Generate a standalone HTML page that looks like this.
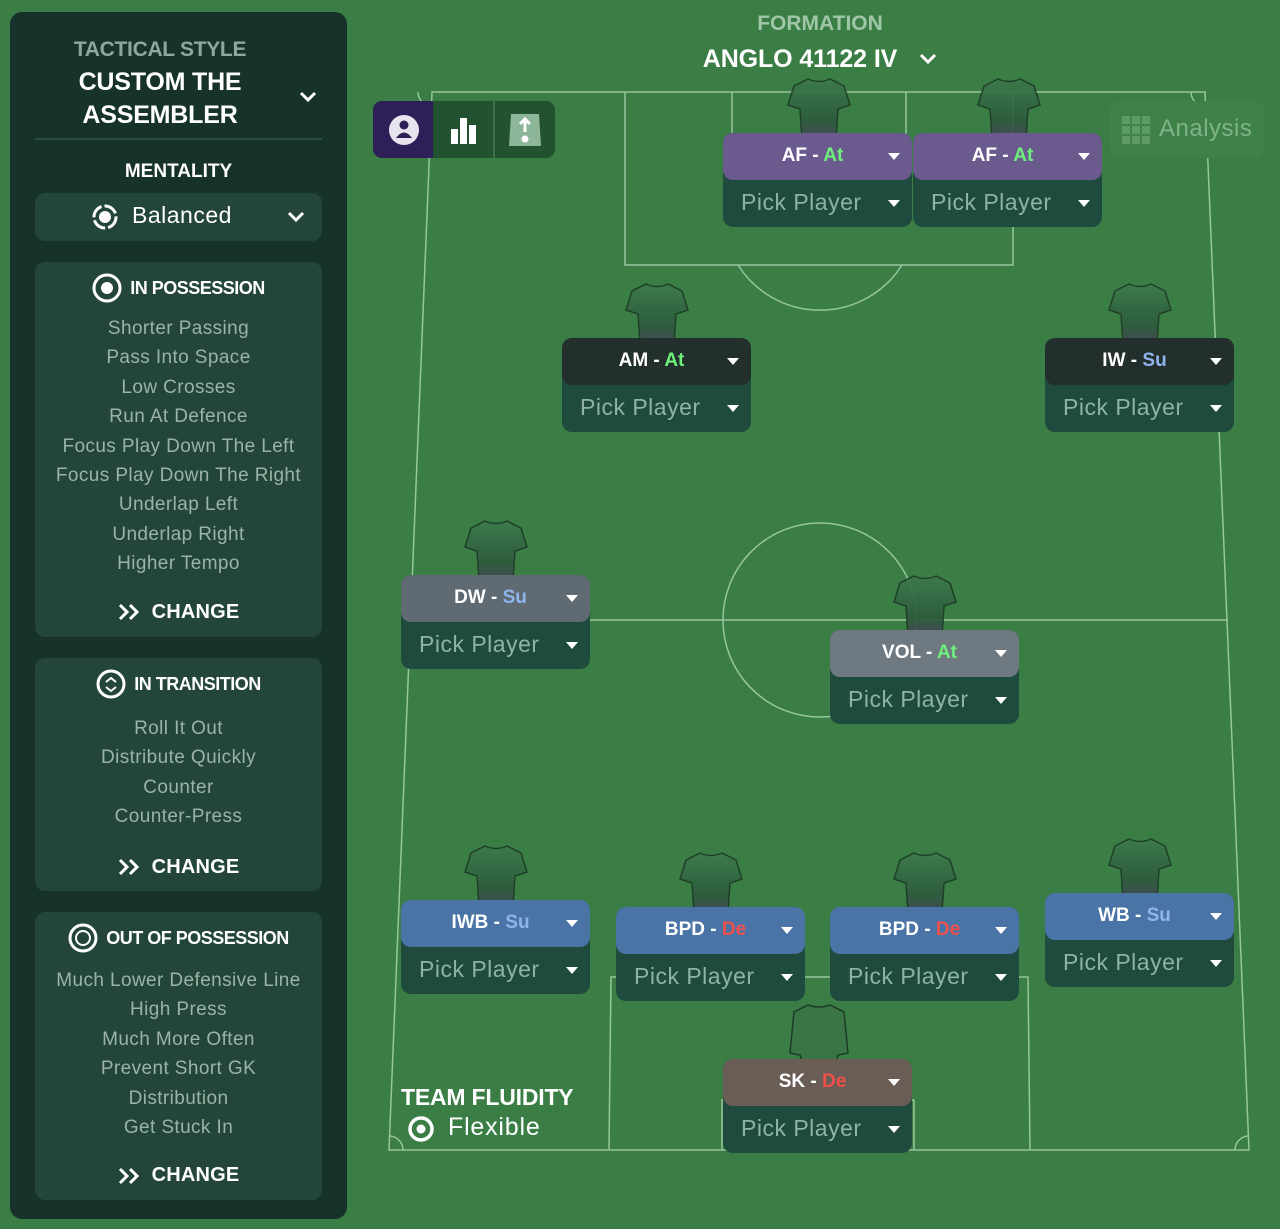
<!DOCTYPE html>
<html><head><meta charset="utf-8"><style>
*{margin:0;padding:0;box-sizing:border-box}
body{width:1280px;height:1229px;background:#3a7e45;position:relative;overflow:hidden;font-family:"Liberation Sans",sans-serif}
.abs{position:absolute}
.side{left:10px;top:12px;width:337px;height:1207px;background:#16322a;border-radius:12px}
.sec{position:absolute;left:35px;width:287px;background:#234639;border-radius:10px}
.c{text-align:center;color:#fff}
.item{color:#9bb3a8;font-size:19px;line-height:29.4px;text-align:center;letter-spacing:.4px}
.h{font-weight:bold;font-size:18px;color:#fff;letter-spacing:-.5px;display:flex;align-items:center;justify-content:center;gap:8px}
.chg{font-weight:bold;font-size:20px;color:#fff;letter-spacing:.2px;display:flex;align-items:center;justify-content:center;gap:12px}
.card{position:absolute;width:189px;height:94px;border-radius:10px;background:#1e4b3d}
.hd{position:absolute;left:0;top:0;width:189px;height:47px;border-radius:10px;font-weight:bold;font-size:19px;color:#fff;text-align:center;line-height:45px;padding-right:10px}
.pp{position:absolute;left:0;top:47px;width:189px;height:47px;color:#8fb3a3;font-size:23px;line-height:45px;padding-left:18px;letter-spacing:.5px}
.tri{position:absolute;right:12px;width:0;height:0;border-left:6px solid transparent;border-right:6px solid transparent;border-top:7px solid #fff}
.shirt{position:absolute;width:66px;height:62px}
</style></head><body>
<svg class="abs" style="left:0;top:0" width="1280" height="1229">
<g fill="none" stroke="#a8d2ad" stroke-width="1.5" opacity=".85">
<polygon points="432,92 1205,92 1249,1150 389,1150"/>
<line x1="408" y1="620" x2="1228" y2="620"/>
<circle cx="820" cy="620" r="97"/>
<polyline points="625,92 625,265 1013,265 1013,92"/>
<polyline points="732,92 732,135 906,135 906,92"/>
<path d="M738,265 A97,97 0 0 0 902,265"/>
<polyline points="609,1150 611,977 1028,977 1030,1150"/>
<polyline points="722,1150 722,1100 914,1100 914,1150"/>
<path d="M418,92 A14,14 0 0 0 432,106"/><path d="M1191,92 A14,14 0 0 0 1205,106"/>
<path d="M389,1136 A14,14 0 0 1 403,1150"/><path d="M1249,1136 A14,14 0 0 0 1235,1150"/>
</g></svg>

<div class="abs side"></div>
<div class="abs c" style="left:10px;width:337px;top:38px;font-weight:bold;font-size:21px;color:#8da79b">
<div style="width:300px;text-align:center;letter-spacing:-.3px">TACTICAL STYLE</div></div>
<div class="abs" style="left:38px;width:244px;top:66px;font-weight:bold;font-size:25px;color:#fff;text-align:center;line-height:33px;letter-spacing:-.2px">CUSTOM THE<br>ASSEMBLER</div>
<svg class="abs" style="left:298px;top:90px" width="20" height="14"><polyline points="3,3 10,10 17,3" fill="none" stroke="#fff" stroke-width="3"/></svg>
<div class="abs" style="left:35px;top:138px;width:287px;height:2px;background:#2d4d42"></div>
<div class="abs c" style="left:35px;width:287px;top:161px;font-weight:bold;font-size:19px">MENTALITY</div>
<div class="sec" style="top:193px;height:48px"></div>
<svg class="abs" style="left:91px;top:203px" width="28" height="28"><circle cx="14" cy="14" r="11" fill="none" stroke="#fff" stroke-width="3" stroke-dasharray="14 3"/><circle cx="14" cy="14" r="6" fill="#fff"/></svg>
<div class="abs" style="left:132px;top:202px;color:#fff;font-size:23px;letter-spacing:.5px">Balanced</div>
<svg class="abs" style="left:286px;top:210px" width="20" height="14"><polyline points="3,3 10,10 17,3" fill="none" stroke="#fff" stroke-width="3"/></svg>

<div class="sec" style="top:262px;height:375px">
<div class="h" style="margin-top:11px"><svg width="30" height="30"><circle cx="15" cy="15" r="13" fill="none" stroke="#fff" stroke-width="3"/><circle cx="15" cy="15" r="6" fill="#fff"/></svg>IN POSSESSION</div>
<div class="item" style="margin-top:11px">Shorter Passing<br>Pass Into Space<br>Low Crosses<br>Run At Defence<br>Focus Play Down The Left<br>Focus Play Down The Right<br>Underlap Left<br>Underlap Right<br>Higher Tempo</div>
<div class="chg" style="margin-top:22px"><svg width="22" height="18"><polyline points="2,2 9,9 2,16" fill="none" stroke="#fff" stroke-width="3"/><polyline points="12,2 19,9 12,16" fill="none" stroke="#fff" stroke-width="3"/></svg>CHANGE</div>
</div>
<div class="sec" style="top:658px;height:233px">
<div class="h" style="margin-top:11px"><svg width="30" height="30"><circle cx="15" cy="15" r="13" fill="none" stroke="#fff" stroke-width="3"/><polyline points="10,13 15,9 20,13" fill="none" stroke="#fff" stroke-width="2"/><polyline points="10,18 15,22 20,18" fill="none" stroke="#fff" stroke-width="2"/></svg>IN TRANSITION</div>
<div class="item" style="margin-top:15px">Roll It Out<br>Distribute Quickly<br>Counter<br>Counter-Press</div>
<div class="chg" style="margin-top:24px"><svg width="22" height="18"><polyline points="2,2 9,9 2,16" fill="none" stroke="#fff" stroke-width="3"/><polyline points="12,2 19,9 12,16" fill="none" stroke="#fff" stroke-width="3"/></svg>CHANGE</div>
</div>
<div class="sec" style="top:912px;height:288px">
<div class="h" style="margin-top:11px"><svg width="30" height="30"><circle cx="15" cy="15" r="13" fill="none" stroke="#fff" stroke-width="3"/><circle cx="15" cy="15" r="7" fill="none" stroke="#fff" stroke-width="2"/></svg>OUT OF POSSESSION</div>
<div class="item" style="margin-top:13px">Much Lower Defensive Line<br>High Press<br>Much More Often<br>Prevent Short GK<br>Distribution<br>Get Stuck In</div>
<div class="chg" style="margin-top:22px"><svg width="22" height="18"><polyline points="2,2 9,9 2,16" fill="none" stroke="#fff" stroke-width="3"/><polyline points="12,2 19,9 12,16" fill="none" stroke="#fff" stroke-width="3"/></svg>CHANGE</div>
</div>

<div class="abs c" style="left:620px;width:400px;top:12px;font-weight:bold;font-size:21px;color:#9fc6a6">FORMATION</div>
<div class="abs c" style="left:600px;width:400px;top:45px;font-weight:bold;font-size:25px;letter-spacing:-.1px">ANGLO 41122 IV</div>
<svg class="abs" style="left:918px;top:52px" width="20" height="14"><polyline points="3,3 10,10 17,3" fill="none" stroke="#fff" stroke-width="3"/></svg>

<div class="abs" style="left:373px;top:101px;width:182px;height:57px;border-radius:9px;background:#235230;overflow:hidden">
<div class="abs" style="left:0;top:0;width:60px;height:57px;background:#2d1f57"></div>
<div class="abs" style="left:120px;top:0;width:2px;height:57px;background:#3b7045"></div>
<svg class="abs" style="left:14px;top:12px" width="34" height="34"><circle cx="17" cy="17" r="15" fill="#e8e4ef"/><circle cx="17" cy="12" r="4.5" fill="#2d1f57"/><path d="M9,25 Q17,14 25,25Z" fill="#2d1f57"/></svg>
<svg class="abs" style="left:77px;top:14px" width="28" height="30"><rect x="1" y="14" width="7" height="15" fill="#fff"/><rect x="10" y="3" width="7" height="26" fill="#fff"/><rect x="19" y="10" width="7" height="19" fill="#fff"/></svg>
<svg class="abs" style="left:134px;top:11px" width="36" height="36"><path d="M4,2 H32 L34,34 H2Z" fill="#8db598"/><line x1="18" y1="8" x2="18" y2="20" stroke="#fff" stroke-width="3"/><polyline points="13,12 18,7 23,12" fill="none" stroke="#fff" stroke-width="3"/><circle cx="18" cy="27" r="3.5" fill="#fff"/></svg>
</div>
<div class="abs" style="left:1110px;top:101px;width:154px;height:57px;border-radius:10px;background:#3f8249"></div>
<svg class="abs" style="left:1122px;top:116px" width="28" height="28" fill="#5e9a68"><rect x="0" y="0" width="8" height="8"/><rect x="10" y="0" width="8" height="8"/><rect x="20" y="0" width="8" height="8"/><rect x="0" y="10" width="8" height="8"/><rect x="10" y="10" width="8" height="8"/><rect x="20" y="10" width="8" height="8"/><rect x="0" y="20" width="8" height="8"/><rect x="10" y="20" width="8" height="8"/><rect x="20" y="20" width="8" height="8"/></svg>
<div class="abs" style="left:1159px;top:115px;color:#7fb38a;font-size:24px;letter-spacing:.5px">Analysis</div>

<svg width="0" height="0" style="position:absolute"><defs>
<linearGradient id="g" x1="0" y1="0" x2="0" y2="1"><stop offset="0" stop-color="#3c7a4b"/><stop offset=".7" stop-color="#2d5a3c"/><stop offset="1" stop-color="#47465a"/></linearGradient>
<symbol id="sh" viewBox="0 0 66 62"><path d="M22,2 Q33,7 44,2 L58,9 L64,28 L52,32 L50,62 H16 L14,32 L2,28 L8,9Z" fill="url(#g)" stroke="#1d3a27" stroke-width="1.5" opacity=".92"/></symbol>
</defs></svg>

<svg class="shirt" style="left:786px;top:77px"><use href="#sh"/></svg>
<div class="card" style="left:723px;top:133px"><div class="hd" style="background:#6b5a8e">AF - <span style="color:#6ef07c">At</span></div><div class="tri" style="top:20px"></div><div class="pp">Pick Player</div><div class="tri" style="top:67px"></div></div>
<svg class="shirt" style="left:976px;top:77px"><use href="#sh"/></svg>
<div class="card" style="left:913px;top:133px"><div class="hd" style="background:#6b5a8e">AF - <span style="color:#6ef07c">At</span></div><div class="tri" style="top:20px"></div><div class="pp">Pick Player</div><div class="tri" style="top:67px"></div></div>

<svg class="shirt" style="left:624px;top:282px"><use href="#sh"/></svg>
<div class="card" style="left:562px;top:338px"><div class="hd" style="background:#232f2d">AM - <span style="color:#6ef07c">At</span></div><div class="tri" style="top:20px"></div><div class="pp">Pick Player</div><div class="tri" style="top:67px"></div></div>
<svg class="shirt" style="left:1107px;top:282px"><use href="#sh"/></svg>
<div class="card" style="left:1045px;top:338px"><div class="hd" style="background:#232f2d">IW - <span style="color:#8fb4ee">Su</span></div><div class="tri" style="top:20px"></div><div class="pp">Pick Player</div><div class="tri" style="top:67px"></div></div>

<svg class="shirt" style="left:463px;top:519px"><use href="#sh"/></svg>
<div class="card" style="left:401px;top:575px"><div class="hd" style="background:#606a72">DW - <span style="color:#8fb4ee">Su</span></div><div class="tri" style="top:20px"></div><div class="pp">Pick Player</div><div class="tri" style="top:67px"></div></div>
<svg class="shirt" style="left:892px;top:574px"><use href="#sh"/></svg>
<div class="card" style="left:830px;top:630px"><div class="hd" style="background:#6e7981">VOL - <span style="color:#6ef07c">At</span></div><div class="tri" style="top:20px"></div><div class="pp">Pick Player</div><div class="tri" style="top:67px"></div></div>

<svg class="shirt" style="left:463px;top:844px"><use href="#sh"/></svg>
<div class="card" style="left:401px;top:900px"><div class="hd" style="background:#4a74a6">IWB - <span style="color:#8fb4ee">Su</span></div><div class="tri" style="top:20px"></div><div class="pp">Pick Player</div><div class="tri" style="top:67px"></div></div>
<svg class="shirt" style="left:678px;top:851px"><use href="#sh"/></svg>
<div class="card" style="left:616px;top:907px"><div class="hd" style="background:#4a74a6">BPD - <span style="color:#f0504a">De</span></div><div class="tri" style="top:20px"></div><div class="pp">Pick Player</div><div class="tri" style="top:67px"></div></div>
<svg class="shirt" style="left:892px;top:851px"><use href="#sh"/></svg>
<div class="card" style="left:830px;top:907px"><div class="hd" style="background:#4a74a6">BPD - <span style="color:#f0504a">De</span></div><div class="tri" style="top:20px"></div><div class="pp">Pick Player</div><div class="tri" style="top:67px"></div></div>
<svg class="shirt" style="left:1107px;top:837px"><use href="#sh"/></svg>
<div class="card" style="left:1045px;top:893px"><div class="hd" style="background:#4a74a6">WB - <span style="color:#8fb4ee">Su</span></div><div class="tri" style="top:20px"></div><div class="pp">Pick Player</div><div class="tri" style="top:67px"></div></div>

<svg class="shirt" style="left:786px;top:1003px"><path d="M22,2 Q33,6 44,2 L58,9 L62,50 L52,52 L50,60 H16 L14,52 L4,50 L8,9Z" fill="#3a7545" stroke="#1d3a27" stroke-width="1.5"/></svg>
<div class="card" style="left:723px;top:1059px"><div class="hd" style="background:#6a5d55">SK - <span style="color:#f0504a">De</span></div><div class="tri" style="top:20px"></div><div class="pp">Pick Player</div><div class="tri" style="top:67px"></div></div>

<div class="abs" style="left:401px;top:1084px;color:#fff;font-weight:bold;font-size:23px;letter-spacing:-.2px">TEAM FLUIDITY</div>
<svg class="abs" style="left:406px;top:1114px" width="30" height="30"><circle cx="15" cy="15" r="11" fill="none" stroke="#fff" stroke-width="3.5"/><circle cx="15" cy="15" r="4.5" fill="#fff"/></svg>
<div class="abs" style="left:448px;top:1113px;color:#fff;font-size:25px;letter-spacing:.8px">Flexible</div>
</body></html>
